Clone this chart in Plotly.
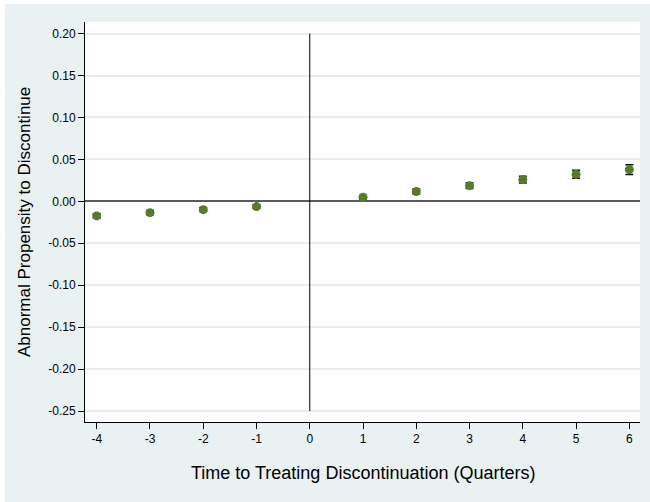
import plotly.graph_objects as go

# Event-study estimates: abnormal propensity to discontinue by quarter
quarters = [-4, -3, -2, -1, 1, 2, 3, 4, 5, 6]
estimates = [-0.0174, -0.0135, -0.0099, -0.0063, 0.0048, 0.0116, 0.0187, 0.0259, 0.0322, 0.0378]
ci_half = [0.0025, 0.0025, 0.0022, 0.0020, 0.0022, 0.0030, 0.0035, 0.0040, 0.0048, 0.0058]

x_ticks = [-4, -3, -2, -1, 0, 1, 2, 3, 4, 5, 6]
x_tick_labels = ["-4", "-3", "-2", "-1", "0", "1", "2", "3", "4", "5", "6"]
y_ticks = [-0.25, -0.20, -0.15, -0.10, -0.05, 0.00, 0.05, 0.10, 0.15, 0.20]
y_tick_labels = ["-0.25", "-0.20", "-0.15", "-0.10", "-0.05", "0.00", "0.05", "0.10", "0.15", "0.20"]

event_time = 0

FONT = "Arial, Liberation Sans, sans-serif"
BG = "#eaf1f3"
GRID = "#e6eef0"
GREEN = "#577a2c"

W, H = 650, 502
ML, MR, MT, MB = 85, 10, 22, 80
PW, PH = W - ML - MR, H - MT - MB

fig = go.Figure()
fig.add_trace(go.Scatter(
    x=quarters, y=estimates, mode="markers",
    marker=dict(size=9, color=GREEN, symbol="circle"),
    error_y=dict(type="data", array=ci_half, visible=True,
                 color="#111111", thickness=1.5, width=4),
    showlegend=False,
))

# vertical reference line at the treating discontinuation
fig.add_shape(type="line", xref="x", yref="y",
              x0=event_time, x1=event_time, y0=min(y_ticks), y1=max(y_ticks),
              line=dict(color="black", width=1), layer="above")

# thin white frame strips at the top and left edge of the page
def px_x(p):
    return (p - ML) / PW

def px_y(p):
    return (H - MB - p) / PH

fig.add_shape(type="rect", xref="paper", yref="paper",
              x0=px_x(0), x1=px_x(W), y0=px_y(4), y1=px_y(0),
              fillcolor="white", line=dict(width=0), layer="above")
fig.add_shape(type="rect", xref="paper", yref="paper",
              x0=px_x(0), x1=px_x(5), y0=px_y(H), y1=px_y(0),
              fillcolor="white", line=dict(width=0), layer="above")

fig.add_annotation(text="Time to Treating Discontinuation (Quarters)",
                   xref="paper", yref="paper", x=0.5, y=px_y(473),
                   xanchor="center", yanchor="middle", showarrow=False,
                   font=dict(family=FONT, size=18, color="black"))
fig.add_annotation(text="Abnormal Propensity to Discontinue",
                   xref="paper", yref="paper", x=px_x(24), y=0.5,
                   xanchor="center", yanchor="middle", showarrow=False,
                   textangle=-90,
                   font=dict(family=FONT, size=17, color="black"))

fig.update_layout(
    width=W, height=H,
    margin=dict(l=ML, r=MR, t=MT, b=MB, pad=0),
    paper_bgcolor=BG, plot_bgcolor="white",
    font=dict(family=FONT, size=12, color="black"),
    xaxis=dict(range=[-4.22, 6.2], tickmode="array", tickvals=x_ticks,
               ticktext=x_tick_labels, showgrid=False, zeroline=False,
               showline=True, linecolor="black", linewidth=1,
               ticks="outside", ticklen=6, tickcolor="black", tickwidth=1,
               tickfont=dict(family=FONT, size=12, color="black")),
    yaxis=dict(range=[-0.2631, 0.2138], tickmode="array", tickvals=y_ticks,
               ticktext=y_tick_labels, showgrid=True, gridcolor=GRID, gridwidth=1.5,
               zeroline=True, zerolinecolor="#5a5a5a", zerolinewidth=1.5,
               showline=True, linecolor="black", linewidth=1,
               ticks="outside", ticklen=6, tickcolor="black", tickwidth=1,
               tickfont=dict(family=FONT, size=12, color="black")),
)

fig.write_html("out.html")
